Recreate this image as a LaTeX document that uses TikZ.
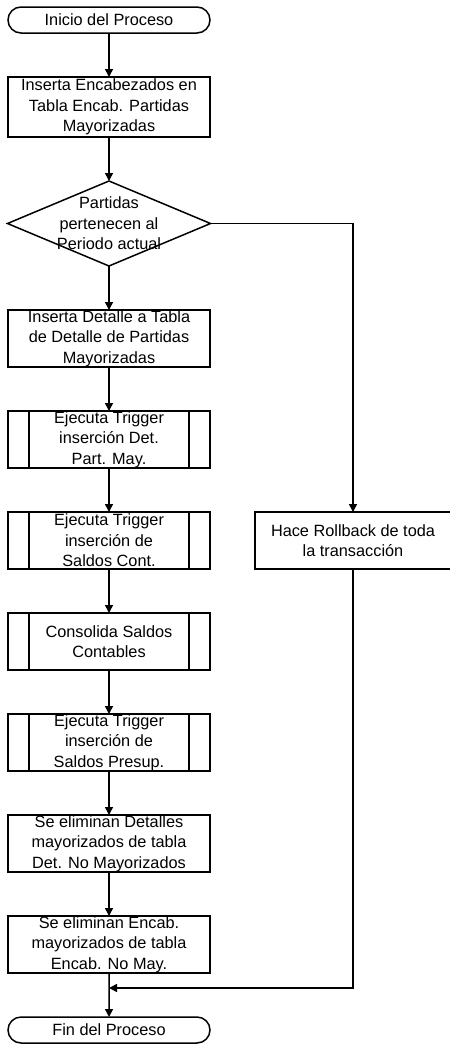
\documentclass[tikz,border=0pt]{standalone}
\usepackage{fontspec}
\setmainfont{Liberation Sans}
\usetikzlibrary{arrows.meta, shapes.geometric, shapes.misc, positioning}

\begin{document}
\begin{tikzpicture}[
  x=1pt, y=1pt,
  node distance=44pt,
  every node/.style={draw=black, line width=1.5pt, align=center, inner sep=0pt, outer sep=0pt, font=\fontsize{16.3}{20.5}\selectfont},
  proc/.style={rectangle, minimum width=202pt, minimum height=57pt},
  subproc/.style={proc, path picture={
      \draw[line width=1.5pt] ([xshift=21pt]path picture bounding box.north west) -- ([xshift=21pt]path picture bounding box.south west)
        ([xshift=-21pt]path picture bounding box.north east) -- ([xshift=-21pt]path picture bounding box.south east);}},
  term/.style={rounded rectangle, minimum width=202pt, minimum height=26pt},
  decision/.style={diamond, aspect=2.39, inner sep=-8pt, minimum width=203pt, minimum height=85pt},
  arrow/.style={-{Triangle[length=8pt, width=8pt]}, line width=1.5pt}
]
\useasboundingbox (0,0) rectangle (450,-1045);

\node (start) [term] at (109,-20) {Inicio del Proceso};
\node (encab) [proc, minimum height=60pt, below=of start] {Inserta Encabezados en\\Tabla Encab. Partidas\\Mayorizadas};
\node (periodo) [decision, below=of encab] {Partidas\\pertenecen al\\Periodo actual};
\node (detalle) [proc, below=of periodo] {Inserta Detalle a Tabla\\de Detalle de Partidas\\Mayorizadas};
\node (trigdet) [subproc, below=of detalle] {Ejecuta Trigger\\inserción Det.\\Part. May.};
\node (trigcont) [subproc, below=of trigdet] {Ejecuta Trigger\\inserción de\\Saldos Cont.};
\node (consolida) [subproc, below=of trigcont] {Consolida Saldos\\Contables};
\node (trigpres) [subproc, below=of consolida] {Ejecuta Trigger\\inserción de\\Saldos Presup.};
\node (elimdet) [proc, below=of trigpres] {Se eliminan Detalles\\mayorizados de tabla\\Det. No Mayorizados};
\node (elimenc) [proc, below=of elimdet] {Se eliminan Encab.\\mayorizados de tabla\\Encab. No May.};
\node (fin) [term, below=of elimenc] {Fin del Proceso};
\node (rollback) [proc, minimum width=196pt, right=45pt of trigcont] {Hace Rollback de toda\\la transacción};
\coordinate (merge) at ([yshift=-15pt]elimenc.south);

\draw[arrow] (start) -- (encab);
\draw[arrow] (encab) -- (periodo);
\draw[arrow] (periodo) -- (detalle);
\draw[arrow] (detalle) -- (trigdet);
\draw[arrow] (trigdet) -- (trigcont);
\draw[arrow] (trigcont) -- (consolida);
\draw[arrow] (consolida) -- (trigpres);
\draw[arrow] (trigpres) -- (elimdet);
\draw[arrow] (elimdet) -- (elimenc);
\draw[arrow] (elimenc) -- (fin);
\draw[arrow] (periodo.east) -| (rollback.north);
\draw[arrow] (rollback.south) |- (merge);

\end{tikzpicture}
\end{document}
